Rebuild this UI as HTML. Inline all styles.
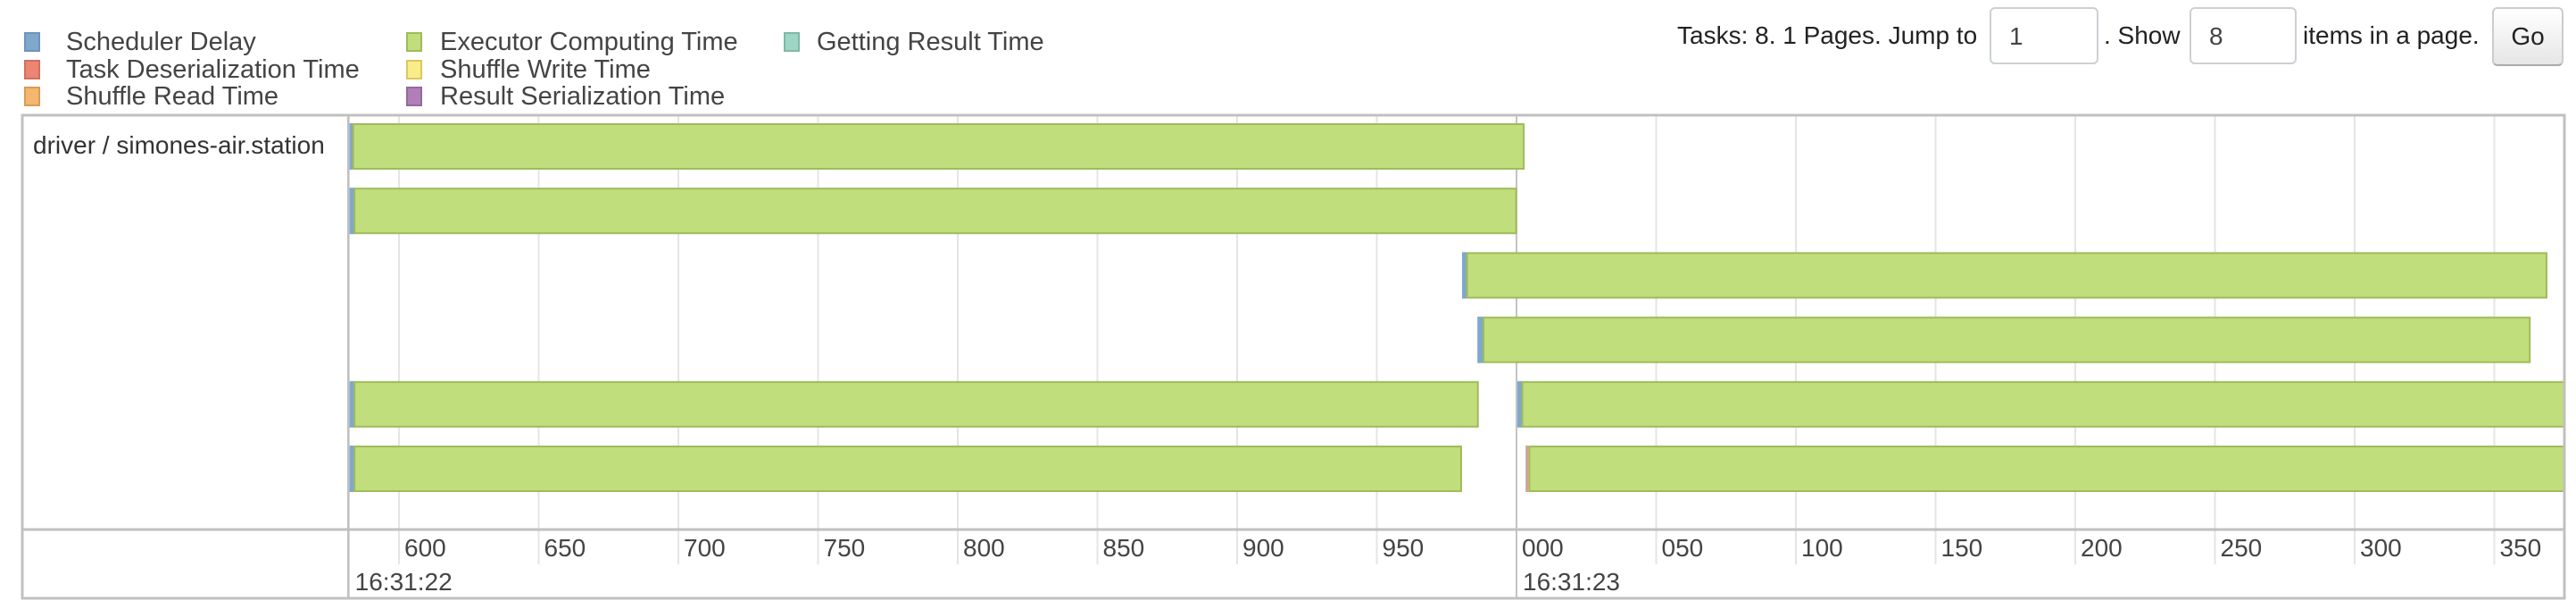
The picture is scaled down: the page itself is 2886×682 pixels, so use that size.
<!DOCTYPE html>
<html><head><meta charset="utf-8">
<style>
html,body{margin:0;padding:0;background:#fff;width:2886px;height:682px;overflow:hidden;font-family:"Liberation Sans",sans-serif;color:#333}
.lg{position:absolute;font-size:29px;line-height:30px;white-space:nowrap;color:#444}
.sw{position:absolute;width:18px;height:22px;box-sizing:border-box;border:2px solid}
.ctl{position:absolute;font-size:28px;white-space:nowrap;color:#222}
.inp{position:absolute;box-sizing:border-box;border:2px solid #ccd0d4;border-radius:6px;font-size:28px;padding:15px 0 0 20px;background:#fff;color:#444}
</style></head><body>
<div>
<div class="sw" style="left:27px;top:36px;background:#80a7cc;border-color:#6d94b9"></div>
<div class="lg" style="left:74px;top:32px">Scheduler Delay</div>
<div class="sw" style="left:27px;top:67px;background:#ec8573;border-color:#d0705f"></div>
<div class="lg" style="left:74px;top:63px">Task Deserialization Time</div>
<div class="sw" style="left:27px;top:97px;background:#f5b770;border-color:#d89c58"></div>
<div class="lg" style="left:74px;top:93px">Shuffle Read Time</div>
<div class="sw" style="left:455px;top:36px;background:#c0de7c;border-color:#9fbb5c"></div>
<div class="lg" style="left:493px;top:32px">Executor Computing Time</div>
<div class="sw" style="left:455px;top:67px;background:#fbec8b;border-color:#d9c85f"></div>
<div class="lg" style="left:493px;top:63px">Shuffle Write Time</div>
<div class="sw" style="left:455px;top:97px;background:#b07fb8;border-color:#936a9b"></div>
<div class="lg" style="left:493px;top:93px">Result Serialization Time</div>
<div class="sw" style="left:878px;top:36px;background:#9dd6c5;border-color:#7fb8a6"></div>
<div class="lg" style="left:915px;top:32px">Getting Result Time</div>
</div>
<div class="ctl" style="left:1879px;top:24px">Tasks: 8. 1 Pages. Jump to</div>
<div class="inp" style="left:2229px;top:8px;width:122px;height:64px">1</div>
<div class="ctl" style="left:2357px;top:24px">. Show</div>
<div class="inp" style="left:2453px;top:8px;width:120px;height:64px">8</div>
<div class="ctl" style="left:2580px;top:24px">items in a page.</div>
<div style="position:absolute;left:2792px;top:8px;width:80px;height:66px;box-sizing:border-box;border:2px solid #ccc;border-bottom-color:#aaa;border-radius:6px;background:linear-gradient(#fff,#e6e6e6);font-size:28px;text-align:center;line-height:62px;color:#222">Go</div>
<svg id="chart" width="2886" height="682" style="position:absolute;left:0;top:0"></svg>
<script>
const laneLabels=["driver / simones-air.station"];
const tickValues=[600,650,700,750,800,850,900,950,1000,1050,1100,1150,1200,1250,1300,1350];
const tickLabels=["600","650","700","750","800","850","900","950","000","050","100","150","200","250","300","350"];
const majorLabels=["16:31:22","16:31:23"];
const majorValues=[582,1000];
const taskRow=[0,1,2,3,4,4,5,5];
const taskStart=[582.3,582.3,980.5,986,582.3,1000.3,582.3,1003.3];
const schedulerDelay=[1.3,1.8,1.8,2.2,1.8,1.8,1.8,0.3];
const deserTime=[0,0,0,0,0,0,0,0.5];
const shuffleRead=[0,0,0,0,0,0,0,0.5];
const taskEnd=[1002.9,1000.2,1369,1363,986.5,1400,980.5,1400];
const NS="http://www.w3.org/2000/svg";
const svg=document.getElementById('chart');
const L=390,R=2873,T=129,B=670,AX=593;
const x=t=>447+(t-600)*3.13;
const rowY=i=>138+i*72.2;
function mk(tag,a){const e=document.createElementNS(NS,tag);for(const k in a)e.setAttribute(k,a[k]);svg.appendChild(e);return e;}
const clip=mk('clipPath',{id:'c'});
const cr=document.createElementNS(NS,'rect');cr.setAttribute('x',L);cr.setAttribute('y',T);cr.setAttribute('width',R-L);cr.setAttribute('height',B-T);clip.appendChild(cr);
tickValues.forEach((v,i)=>{
 const g=mk('line',{x1:x(v),x2:x(v),y1:T,y2:632,stroke:'#e5e5e5','stroke-width':2});
 
 
 const t=mk('text',{x:x(v)+6,y:623,'font-size':28,fill:'#444','font-family':'Liberation Sans, sans-serif'});
 t.textContent=tickLabels[i];
 
 
});
majorValues.forEach((v,i)=>{
 const px=Math.max(L,x(v));
 const m=mk('line',{x1:px,x2:px,y1:T,y2:B,stroke:'#c4c4c4','stroke-width':2});
 
 
 const t=mk('text',{x:px+7,y:661,'font-size':28,fill:'#444','font-family':'Liberation Sans, sans-serif'});
 t.textContent=majorLabels[i];
 
 
});
const H=52;
taskRow.forEach((r,i)=>{
 const y=rowY(r);
 const g=mk('g',{'clip-path':'url(#c)'});
 
 
 let s=taskStart[i];
 const segs=[[schedulerDelay[i],'#80a7cc','#6d94b9'],[deserTime[i],'#ec8573','#d0705f'],[shuffleRead[i],'#f5b770','#d89c58']];
 segs.forEach(([d,f,st])=>{ if(d<=0)return;
  const e=document.createElementNS(NS,'rect');
  e.setAttribute('x',x(s));e.setAttribute('y',y);e.setAttribute('width',x(s+d)-x(s));e.setAttribute('height',H);e.setAttribute('fill',f);
  g.appendChild(e); s+=d;});
 const e=document.createElementNS(NS,'rect');
 e.setAttribute('x',x(s));e.setAttribute('y',y+1);e.setAttribute('width',x(taskEnd[i])-x(s)-1);e.setAttribute('height',H-2);
 e.setAttribute('fill','#c0de7c');e.setAttribute('stroke','#9fbb5c');e.setAttribute('stroke-width',2);
 g.appendChild(e);
});
const lab=mk('text',{x:37,y:172,'font-size':28,fill:'#333','font-family':'Liberation Sans, sans-serif'});
lab.textContent=laneLabels[0];


const f=mk('rect',{x:25,y:T,width:R-25,height:B-T,fill:'none',stroke:'#c0c0c0','stroke-width':3});


const a=mk('line',{x1:25,x2:R,y1:AX,y2:AX,stroke:'#c0c0c0','stroke-width':3});


const d=mk('line',{x1:L,x2:L,y1:T,y2:B,stroke:'#c0c0c0','stroke-width':2});


</script>
</body></html>
